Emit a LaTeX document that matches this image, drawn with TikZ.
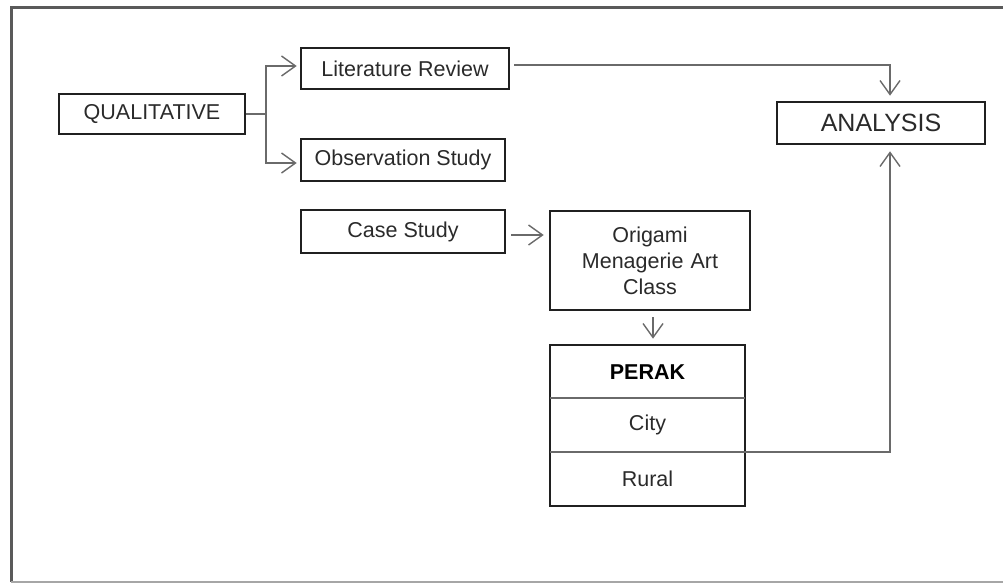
\documentclass[tikz,border=0pt]{standalone}
\usepackage{fontspec}
\setmainfont{Liberation Sans}
\usetikzlibrary{arrows.meta,positioning}
\definecolor{boxline}{HTML}{202020}
\definecolor{conline}{HTML}{6A6A6A}
\definecolor{frameline}{HTML}{5A5A5A}
\definecolor{txt}{HTML}{2A2A2A}
\tikzset{
  boxnode/.style={draw=boxline, line width=2.6pt, inner sep=0pt, text=txt,
    font=\fontsize{21.5}{26}\selectfont, align=center},
  conn/.style={draw=conline, line width=1.4pt,
    -{Straight Barb[length=14pt,width=20pt,line width=1.4pt]}},
  plainconn/.style={draw=conline, line width=1.4pt},
}
\begin{document}
\begin{tikzpicture}[x=1pt,y=-1pt]
\useasboundingbox (0,0) rectangle (1003,583);
% outer frame (right side cut off by image edge)
\draw[frameline, line width=3pt] (1010,8) -- (11,8) -- (11,582);
\draw[black!35, line width=1.5pt] (11,582) -- (1010,582);

% nodes
\node[boxnode, minimum width=186pt, minimum height=40pt] (qual) at (152,114) {QUALITATIVE};
\node[boxnode, minimum width=208pt, minimum height=41pt] (lit) at (405,68.5) {Literature Review};
\node[boxnode, minimum width=204pt, minimum height=42pt] (obs) at (403,160) {Observation Study};
\node[boxnode, minimum width=204pt, minimum height=43pt] (case) at (403,231.5) {Case Study};
\node[boxnode, minimum width=208pt, minimum height=42pt, font=\fontsize{25}{30}\selectfont] (ana) at (881,123) {ANALYSIS};
\node[boxnode, minimum width=200pt, minimum height=99pt, text width=180pt] (ori) at (650,260.5) {Origami\\Menagerie Art\\Class};

% PERAK table
\node[boxnode, minimum width=195pt, minimum height=161pt] (perak) at (647.5,425.5) {};
\coordinate (d1w) at (550,398);
\coordinate (d1e) at (745,398);
\coordinate (d2w) at (550,452);
\coordinate (d2e) at (745,452);
\draw[conline, line width=1.6pt] (d1w) -- (d1e);
\draw[conline, line width=1.6pt] (d2w) -- (d2e);
\node[text=black, font=\fontsize{21.5}{26}\selectfont\bfseries] (perakt) at (647.5,372) {PERAK};
\node[text=txt, font=\fontsize{21.5}{26}\selectfont] (city) at (647.5,425) {City};
\node[text=txt, font=\fontsize{21.5}{26}\selectfont] (rural) at (647.5,479) {Rural};

% connectors
\coordinate (br) at (266,114);
\draw[plainconn] (qual.east) -- (br);
\draw[conn, shorten >=3pt] (br) |- (lit.west |- 0,66);
\draw[conn, shorten >=3pt] (br) |- (obs.west |- 0,163);
\draw[conn, shorten <=4pt, shorten >=5pt] (lit.east |- 0,65) -| (ana.north -| 890,0) ;
\draw[conn, shorten <=5pt, shorten >=5pt] (case.east |- 0,235) -- (ori.west |- 0,235);
\draw[conn, shorten <=6pt, shorten >=5pt] (ori.south -| 653,0) -- (perak.north -| 653,0);
\draw[conn, shorten >=6pt] (d2e) -| (ana.south -| 890,0);
\end{tikzpicture}
\end{document}
